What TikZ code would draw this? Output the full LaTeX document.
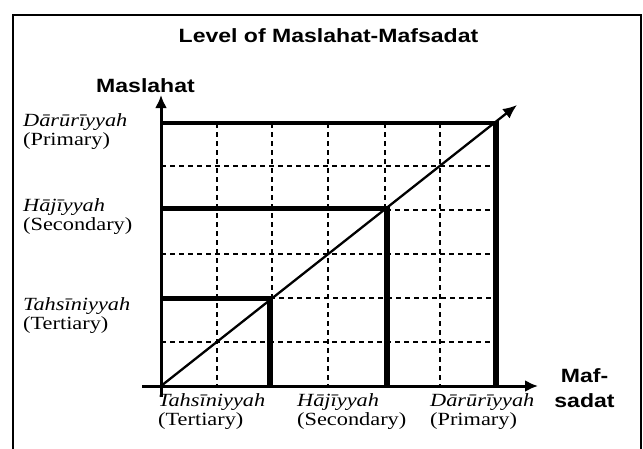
\documentclass[tikz,border=0pt]{standalone}
\usepackage{fontspec}
\setmainfont{Liberation Serif}[FakeStretch=1.2]
\setsansfont{Liberation Sans}[FakeStretch=1.2]
\usetikzlibrary{arrows.meta}
\begin{document}
\begin{tikzpicture}[x=1pt,y=-1pt,
  frame/.style={line width=2pt},
  axisline/.style={line width=3pt,-{Latex[length=13pt,width=12pt]}},
  diagline/.style={line width=2.3pt,-{Latex[length=14pt,width=12pt]}},
  levelh/.style={line width=4.5pt},
  levelv/.style={line width=6pt},
  gridline/.style={line width=1.5pt,dash pattern=on 5pt off 4pt},
  lab/.style={inner sep=0pt,font=\fontsize{18.6}{20}\selectfont},
  sanslab/.style={inner sep=0pt,font=\sffamily\bfseries\fontsize{19.2}{22}\selectfont},
]
\useasboundingbox (0,0) rectangle (643,448);
\fill[white] (0,0) rectangle (643,448);
% frame
\coordinate (fbl) at (13,450);
\coordinate (ftl) at (13,15);
\coordinate (ftr) at (641,15);
\coordinate (fbr) at (641,450);
\draw[frame] (fbl) -- (ftl) -- (ftr) -- (fbr);
% key points
\coordinate (O) at (161,386);
\coordinate (xs) at (142,386);
\coordinate (xe) at (538,386);
\coordinate (ys) at (161,397);
\coordinate (ye) at (161,95);
\coordinate (de) at (517,105);
% grid
\foreach \yy in {166,254,342} \draw[gridline] (161,\yy) -- (496,\yy);
\draw[gridline] (386,210) -- (496,210);
\draw[gridline] (270,298) -- (496,298);
\foreach \xx in {217,272,328,385,440} \draw[gridline] (\xx,123) -- (\xx,386);
% levels
\coordinate (dh0) at (161,123); \coordinate (dh1) at (499,123);
\coordinate (dv0) at (496,120.75); \coordinate (dv1) at (496,386);
\coordinate (hh0) at (161,208.5); \coordinate (hh1) at (389.5,208.5);
\coordinate (hv0) at (386.5,206.25); \coordinate (hv1) at (386.5,386);
\coordinate (th0) at (161,298.5); \coordinate (th1) at (273,298.5);
\coordinate (tv0) at (270,296.25); \coordinate (tv1) at (270,386);
\draw[levelh] (dh0) -- (dh1);
\draw[levelv] (dv0) -- (dv1);
\draw[levelh] (hh0) -- (hh1);
\draw[levelv] (hv0) -- (hv1);
\draw[levelh] (th0) -- (th1);
\draw[levelv] (tv0) -- (tv1);
% diagonal and axes
\draw[diagline] (O) -- (de);
\draw[axisline] (xs) -- (xe);
\draw[axisline] (ys) -- (ye);
% texts
\node[sanslab,anchor=base] (title) at (328.5,42) {Level of Maslahat-Mafsadat};
\node[sanslab,anchor=base west] (ylab) at (96,92) {Maslahat};
\node[sanslab,anchor=base] (xlab1) at (584.5,382) {Maf-};
\node[sanslab,anchor=base] (xlab2) at (584.5,407) {sadat};
\node[lab,anchor=base west] (lD1) at (23,126) {\textit{Dārūrīyyah}};
\node[lab,anchor=base west] (lD2) at (23,145) {(Primary)};
\node[lab,anchor=base west] (lH1) at (23,211) {\textit{Hājīyyah}};
\node[lab,anchor=base west] (lH2) at (23,230) {(Secondary)};
\node[lab,anchor=base west] (lT1) at (23,310) {\textit{Tahsīniyyah}};
\node[lab,anchor=base west] (lT2) at (23,329) {(Tertiary)};
\node[lab,anchor=base west] (bT1) at (158,406) {\textit{Tahsīniyyah}};
\node[lab,anchor=base west] (bT2) at (158,425) {(Tertiary)};
\node[lab,anchor=base west] (bH1) at (297,406) {\textit{Hājīyyah}};
\node[lab,anchor=base west] (bH2) at (297,425) {(Secondary)};
\node[lab,anchor=base west] (bD1) at (430,406) {\textit{Dārūrīyyah}};
\node[lab,anchor=base west] (bD2) at (430,425) {(Primary)};
\end{tikzpicture}
\end{document}
